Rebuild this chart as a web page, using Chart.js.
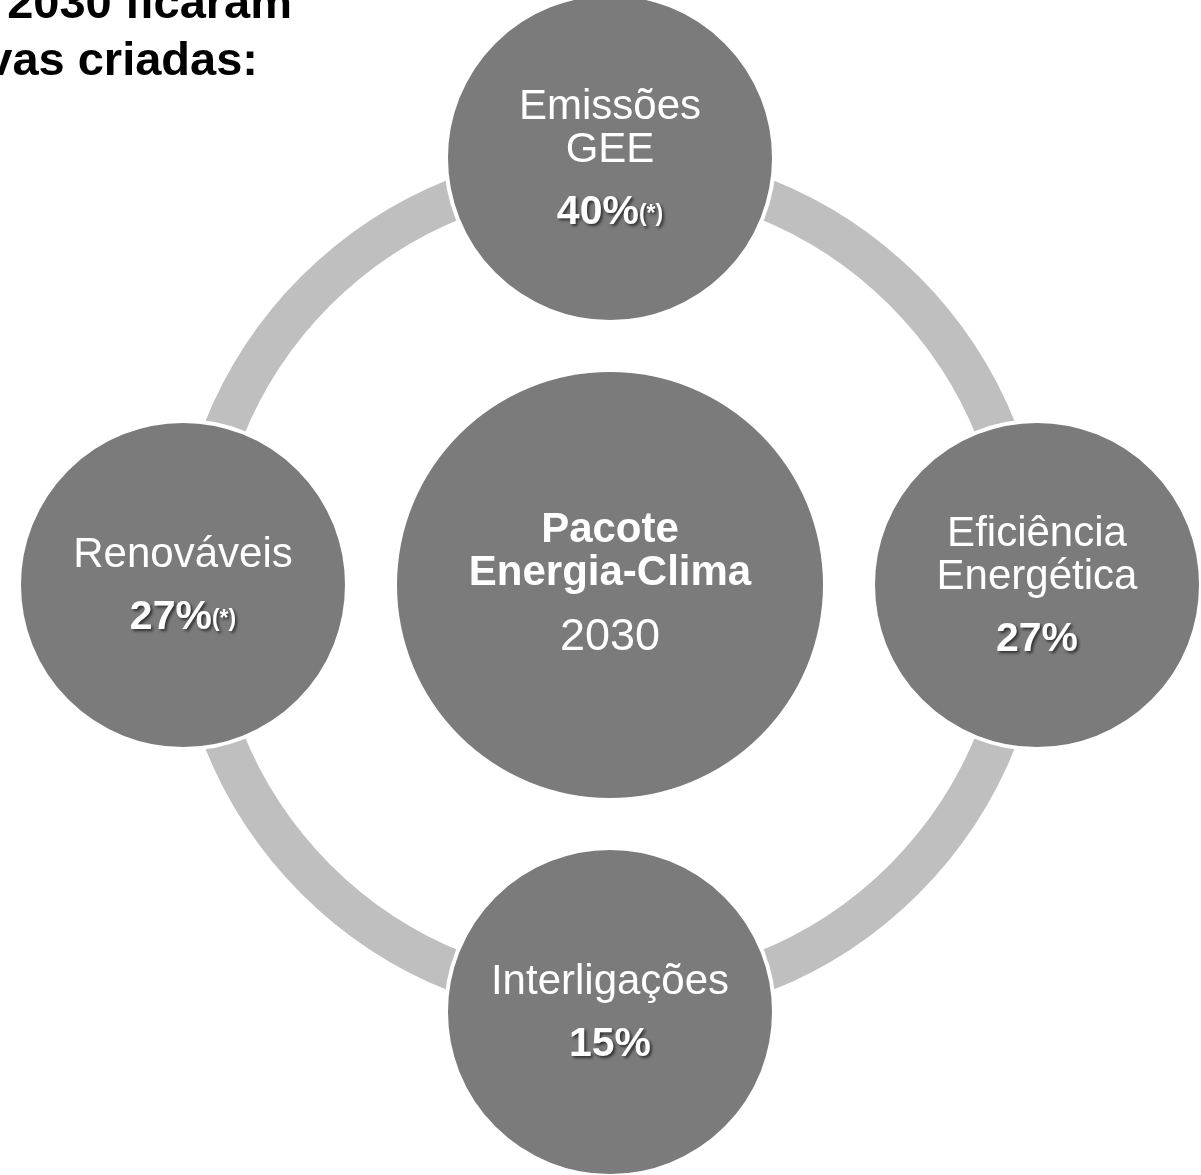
<!DOCTYPE html>
<html><head><meta charset="utf-8">
<script src="https://cdn.jsdelivr.net/npm/chart.js@4.4.0/dist/chart.umd.min.js"></script>
<style>html,body{margin:0;padding:0;background:#fff;overflow:hidden}#wrap{position:relative;width:1201px;height:1175px}canvas{display:block}</style>
</head><body><div id="wrap"><canvas id="c" width="1201" height="1175"></canvas></div>
<script>
// ---- content ----
const titleLines = ['2030 ficaram', 'vas criadas:'];
const centerTitle = ['Pacote', 'Energia-Clima'];
const centerYear = '2030';
const categories = [['Emissões', 'GEE'], ['Eficiência', 'Energética'], ['Interligações'], ['Renováveis']];
const targets = [40, 27, 15, 27];            // % targets
const notes = ['(*)', '', '', '(*)'];

// ---- layout / style ----
const FONT = '"Liberation Sans", Arial, Helvetica, sans-serif';
const W = 1201, H = 1175;
const CX = 610, CY = 585, UNIT = 427;        // pixel centre of diagram and pixels per layout unit
const NODE_COLOR = '#7b7b7b', RING_COLOR = '#bfbfbf';

// node positions on a unit circle: top, right, bottom, left
const nodePoints = categories.map((c, i) => {
  const a = Math.PI / 2 - i * Math.PI / 2;
  return { x: Math.round(Math.cos(a) * 1000) / 1000, y: Math.round(Math.sin(a) * 1000) / 1000 };
});

const labelPlugin = {
  id: 'labels',
  afterDatasetsDraw(chart) {
    const ctx = chart.ctx, xs = chart.scales.x, ys = chart.scales.y;
    ctx.save();
    ctx.fillStyle = '#fff';
    ctx.textBaseline = 'alphabetic';
    // outer nodes
    nodePoints.forEach((p, i) => {
      const px = xs.getPixelForValue(p.x), py = ys.getPixelForValue(p.y);
      const lines = categories[i];
      const lh = 43, gap = 62;
      const span = lh * (lines.length - 1) + gap;
      const y = py - span / 2 + 13;
      ctx.font = '42px ' + FONT;
      ctx.textAlign = 'center';
      lines.forEach((ln, k) => ctx.fillText(ln, px, y + k * lh));
      const by = y + span;
      const pct = targets[i] + '%';
      ctx.font = 'bold 41px ' + FONT;
      const w1 = ctx.measureText(pct).width;
      ctx.font = 'bold 23px ' + FONT;
      const w2 = notes[i] ? ctx.measureText(notes[i]).width : 0;
      const x0 = px - (w1 + w2) / 2;
      ctx.textAlign = 'left';
      ctx.shadowColor = 'rgba(0,0,0,0.6)';
      ctx.shadowOffsetX = 2; ctx.shadowOffsetY = 2; ctx.shadowBlur = 3;
      ctx.font = 'bold 41px ' + FONT;
      ctx.fillText(pct, x0, by);
      if (notes[i]) { ctx.font = 'bold 23px ' + FONT; ctx.fillText(notes[i], x0 + w1, by - 3); }
      ctx.shadowColor = 'rgba(0,0,0,0)'; ctx.shadowOffsetX = 0; ctx.shadowOffsetY = 0; ctx.shadowBlur = 0;
    });
    // centre node
    const cx = xs.getPixelForValue(0), cy = ys.getPixelForValue(0);
    ctx.textAlign = 'center';
    ctx.font = 'bold 42px ' + FONT;
    ctx.fillText(centerTitle[0], cx, cy - 43);
    ctx.fillText(centerTitle[1], cx, cy);
    ctx.font = '45px ' + FONT;
    ctx.fillText(centerYear, cx, cy + 65);
    // title (cropped, top-left)
    ctx.fillStyle = '#000';
    ctx.font = 'bold 47px ' + FONT;
    ctx.textAlign = 'right';
    ctx.fillText(titleLines[0], 292, 18);
    ctx.fillText(titleLines[1], 258, 75);
    ctx.restore();
  }
};

new Chart(document.getElementById('c'), {
  type: 'scatter',
  data: {
    datasets: [
      {
        label: 'nodes',
        order: 1,
        clip: false,
        data: [{ x: 0, y: 0 }].concat(nodePoints),
        pointRadius: [213, 164, 164, 164, 164],
        pointHoverRadius: [213, 164, 164, 164, 164],
        pointStyle: 'circle',
        backgroundColor: NODE_COLOR,
        borderColor: '#ffffff',
        borderWidth: [0, 4, 4, 4, 4],
        hoverBorderWidth: [0, 4, 4, 4, 4]
      },
      {
        label: 'ring',
        order: 2,
        clip: false,
        data: [{ x: 0, y: 0 }],
        pointRadius: 416,
        pointHoverRadius: 416,
        pointStyle: 'circle',
        backgroundColor: 'rgba(0,0,0,0)',
        borderColor: RING_COLOR,
        borderWidth: 41,
        hoverBorderWidth: 41
      }
    ]
  },
  options: {
    responsive: false,
    animation: false,
    events: [],
    layout: { padding: 0, autoPadding: false },
    plugins: { legend: { display: false }, tooltip: { enabled: false }, title: { display: false } },
    scales: {
      x: { type: 'linear', display: false, min: -CX / UNIT, max: (W - CX) / UNIT },
      y: { type: 'linear', display: false, min: -(H - CY) / UNIT, max: CY / UNIT }
    }
  },
  plugins: [labelPlugin]
});
</script>
</body></html>
